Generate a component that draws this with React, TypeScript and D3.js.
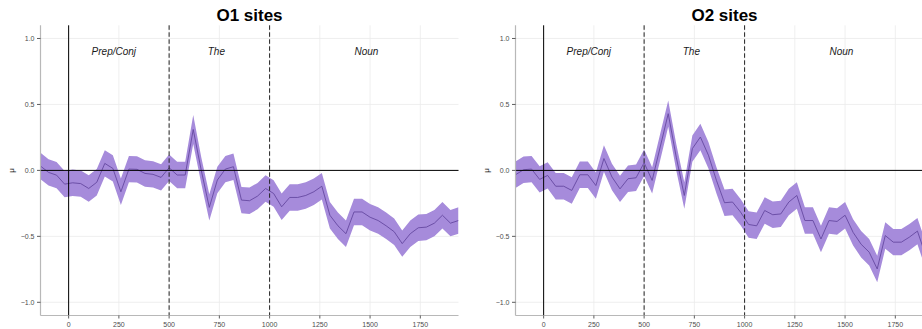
import React from "react";
import * as d3 from "d3";

const times = [
  -140, -100, -60, -20, 20, 60, 100, 140, 180, 220, 260, 300, 340, 380, 420, 460,
  500, 540, 580, 620, 660, 700, 740, 780, 820, 860, 900, 940, 980, 1020, 1060, 1100,
  1140, 1180, 1220, 1260, 1300, 1340, 1380, 1420, 1460, 1500, 1540, 1580, 1620, 1660,
  1700, 1740, 1780, 1820, 1860, 1900, 1940,
];

const o1Mean = [
  0.033, -0.015, -0.036, -0.104, -0.094, -0.1, -0.137, -0.09, 0.053, 0.015, -0.162, 0.01,
  0.008, -0.023, -0.03, -0.053, 0.02, -0.035, -0.035, 0.31, 0.0, -0.28, -0.073, 0.01,
  0.028, -0.225, -0.23, -0.195, -0.137, -0.175, -0.276, -0.205, -0.205, -0.19, -0.162,
  -0.12, -0.34, -0.42, -0.48, -0.315, -0.315, -0.355, -0.38, -0.42, -0.465, -0.555, -0.48,
  -0.435, -0.43, -0.4, -0.34, -0.4, -0.38,
];
const o1Se = [
  0.1, 0.1, 0.1, 0.1, 0.1, 0.1, 0.1, 0.1, 0.1, 0.1, 0.1, 0.1, 0.1, 0.1, 0.1, 0.1,
  0.1, 0.1, 0.1, 0.11, 0.1, 0.1, 0.1, 0.1, 0.1, 0.1, 0.1, 0.1, 0.1, 0.1, 0.1, 0.1,
  0.1, 0.1, 0.1, 0.1, 0.1, 0.1, 0.1, 0.1, 0.1, 0.1, 0.1, 0.1, 0.1, 0.1, 0.1,
  0.1, 0.1, 0.1, 0.1, 0.1, 0.1,
];

const o2Mean = [
  -0.033, 0.005, 0.01, -0.068, -0.038, -0.12, -0.12, -0.152, -0.033, -0.033, -0.115, 0.09,
  -0.05, -0.14, -0.063, -0.056, 0.058, -0.076, 0.177, 0.43, 0.1, -0.19, 0.165, 0.253,
  0.115, -0.076, -0.245, -0.24, -0.316, -0.41, -0.42, -0.304, -0.336, -0.33, -0.24,
  -0.19, -0.38, -0.38, -0.52, -0.38, -0.387, -0.34, -0.47, -0.56, -0.62, -0.747, -0.494,
  -0.544, -0.544, -0.506, -0.46, -0.64, -0.6,
];
const o2Se = [
  0.1, 0.1, 0.1, 0.1, 0.1, 0.1, 0.1, 0.1, 0.1, 0.1, 0.1, 0.1, 0.1, 0.1, 0.1, 0.1,
  0.1, 0.1, 0.1, 0.1, 0.1, 0.1, 0.1, 0.1, 0.1, 0.1, 0.1, 0.1, 0.1, 0.1, 0.1, 0.1,
  0.1, 0.1, 0.1, 0.1, 0.1, 0.1, 0.1, 0.1, 0.1, 0.1, 0.1, 0.1, 0.1, 0.1, 0.1,
  0.1, 0.1, 0.1, 0.1, 0.1, 0.1,
];

const xTicks = [0, 250, 500, 750, 1000, 1250, 1500, 1750];
const yTicks = [-1.0, -0.5, 0.0, 0.5, 1.0];
const regionLabels = ["Prep/Conj", "The", "Noun"];
const regionCenters = [225, 735, 1482];
const boundaries = [500, 1000];
const panelTitles = ["O1 sites", "O2 sites"];

const W = 922;
const H = 329;
const TOP = 25.3;
const BOTTOM = 315.5;

const FONT = "'Liberation Sans', Arial, Helvetica, sans-serif";
const RIBBON = "#a68bdb";
const LINE = "#6548a0";

function Panel({ left, title, mean, se, id }) {
  const x = d3.scaleLinear().domain([-140, 1940]).range([left, left + 418]);
  const y = d3.scaleLinear().domain([-1.1, 1.1]).range([BOTTOM, TOP]);
  const idx = d3.range(times.length);
  const area = d3
    .area<number>()
    .x((i) => x(times[i]))
    .y0((i) => y(mean[i] - se[i]))
    .y1((i) => y(mean[i] + se[i]));
  const line = d3
    .line<number>()
    .x((i) => x(times[i]))
    .y((i) => y(mean[i]));
  const x0 = x.range()[0];
  const x1 = x.range()[1];
  return (
    <g>
      <defs>
        <clipPath id={id}>
          <rect x={x0} y={TOP} width={x1 - x0} height={BOTTOM - TOP} />
        </clipPath>
      </defs>
      {xTicks.map((t) => (
        <line key={"gx" + t} x1={x(t)} x2={x(t)} y1={TOP} y2={BOTTOM} stroke="#ebebeb" strokeWidth={0.8} />
      ))}
      {yTicks.map((t) => (
        <line key={"gy" + t} x1={x0} x2={x1} y1={y(t)} y2={y(t)} stroke="#ebebeb" strokeWidth={0.8} />
      ))}
      <g clipPath={`url(#${id})`}>
        <path d={area(idx) || ""} fill={RIBBON} />
        <path d={line(idx) || ""} fill="none" stroke={LINE} strokeWidth={0.9} />
      </g>
      <line x1={x0} x2={x1} y1={y(0)} y2={y(0)} stroke="#000" strokeWidth={1} />
      <line x1={x(0)} x2={x(0)} y1={TOP} y2={BOTTOM} stroke="#000" strokeWidth={1} />
      {boundaries.map((b) => (
        <line key={"b" + b} x1={x(b)} x2={x(b)} y1={TOP} y2={BOTTOM} stroke="#222" strokeWidth={1} strokeDasharray="4.5,2.5" />
      ))}
      {regionLabels.map((l, i) => (
        <text key={l} x={x(regionCenters[i])} y={y(0.9) + 3.5} textAnchor="middle" fontFamily={FONT} fontStyle="italic" fontSize={10} fill="#1a1a1a">
          {l}
        </text>
      ))}
      <line x1={x0} x2={x0} y1={TOP} y2={BOTTOM} stroke="#b8b8b8" strokeWidth={1.2} />
      <line x1={x0} x2={x1} y1={BOTTOM} y2={BOTTOM} stroke="#b8b8b8" strokeWidth={1.2} />
      {yTicks.map((t) => (
        <g key={"ty" + t}>
          <line x1={x0 - 3.5} x2={x0} y1={y(t)} y2={y(t)} stroke="#333" strokeWidth={0.8} />
          <text x={x0 - 6} y={y(t) + 2.5} textAnchor="end" fontFamily={FONT} fontSize={7} fill="#4d4d4d">
            {d3.format(".1f")(t)}
          </text>
        </g>
      ))}
      {xTicks.map((t) => (
        <g key={"tx" + t}>
          <line x1={x(t)} x2={x(t)} y1={BOTTOM} y2={BOTTOM + 3} stroke="#333" strokeWidth={0.8} />
          <text x={x(t)} y={BOTTOM + 11} textAnchor="middle" fontFamily={FONT} fontSize={7} fill="#4d4d4d">
            {t}
          </text>
        </g>
      ))}
      <text
        transform={`translate(${x0 - 27},${y(0)}) rotate(-90)`}
        textAnchor="middle"
        fontFamily={FONT}
        fontSize={8}
        fill="#1a1a1a"
      >
        μ
      </text>
      <text x={(x0 + x1) / 2} y={21} textAnchor="middle" fontFamily={FONT} fontWeight="bold" fontSize={17} fill="#000">
        {title}
      </text>
    </g>
  );
}

export default function App() {
  return (
    <svg
      width={W}
      height={H}
      style={{ position: "absolute", left: 0, top: 0, display: "block", background: "#fff" }}
    >
      <rect width={W} height={H} fill="#fff" />
      <Panel left={40.5} title={panelTitles[0]} mean={o1Mean} se={o1Se} id="clipO1" />
      <Panel left={515.5} title={panelTitles[1]} mean={o2Mean} se={o2Se} id="clipO2" />
    </svg>
  );
}
